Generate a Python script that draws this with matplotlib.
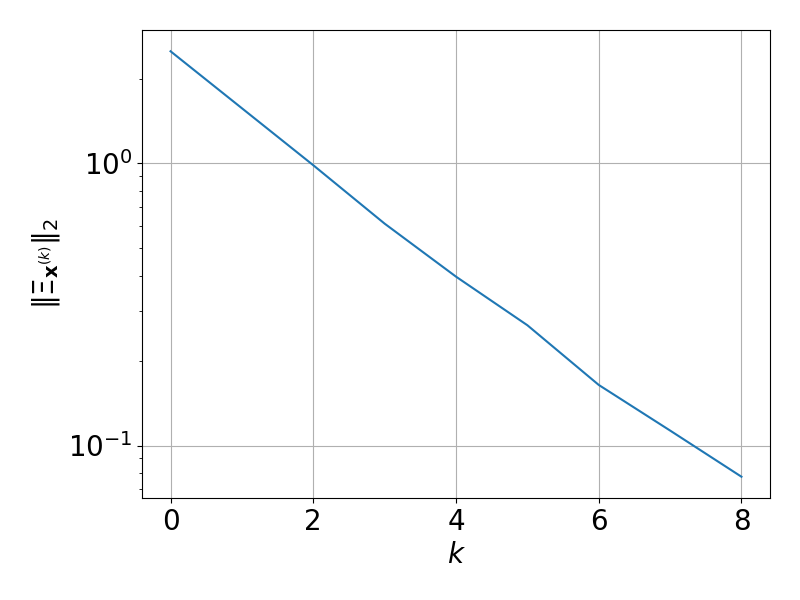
import matplotlib
matplotlib.use("Agg")
import matplotlib.pyplot as plt

k = [0, 1, 2, 3, 4, 5, 6, 7, 8]
err_norm = [2.50, 1.57, 0.986, 0.612, 0.397, 0.267, 0.164, 0.113, 0.0775]

plt.rcParams["font.size"] = 20

fig, ax = plt.subplots(figsize=(8, 6), dpi=100)
ax.semilogy(k, err_norm, color="#1f77b4")
ax.set_xlabel(r"$k$")
ax.set_ylabel(r"$\|\Xi_{\mathbf{x}^{(k)}}\|_2$")
ax.set_xticks([0, 2, 4, 6, 8])
ax.grid()
fig.subplots_adjust(left=0.1775, right=0.9625, top=0.95, bottom=0.17)
fig.savefig("out.png")
